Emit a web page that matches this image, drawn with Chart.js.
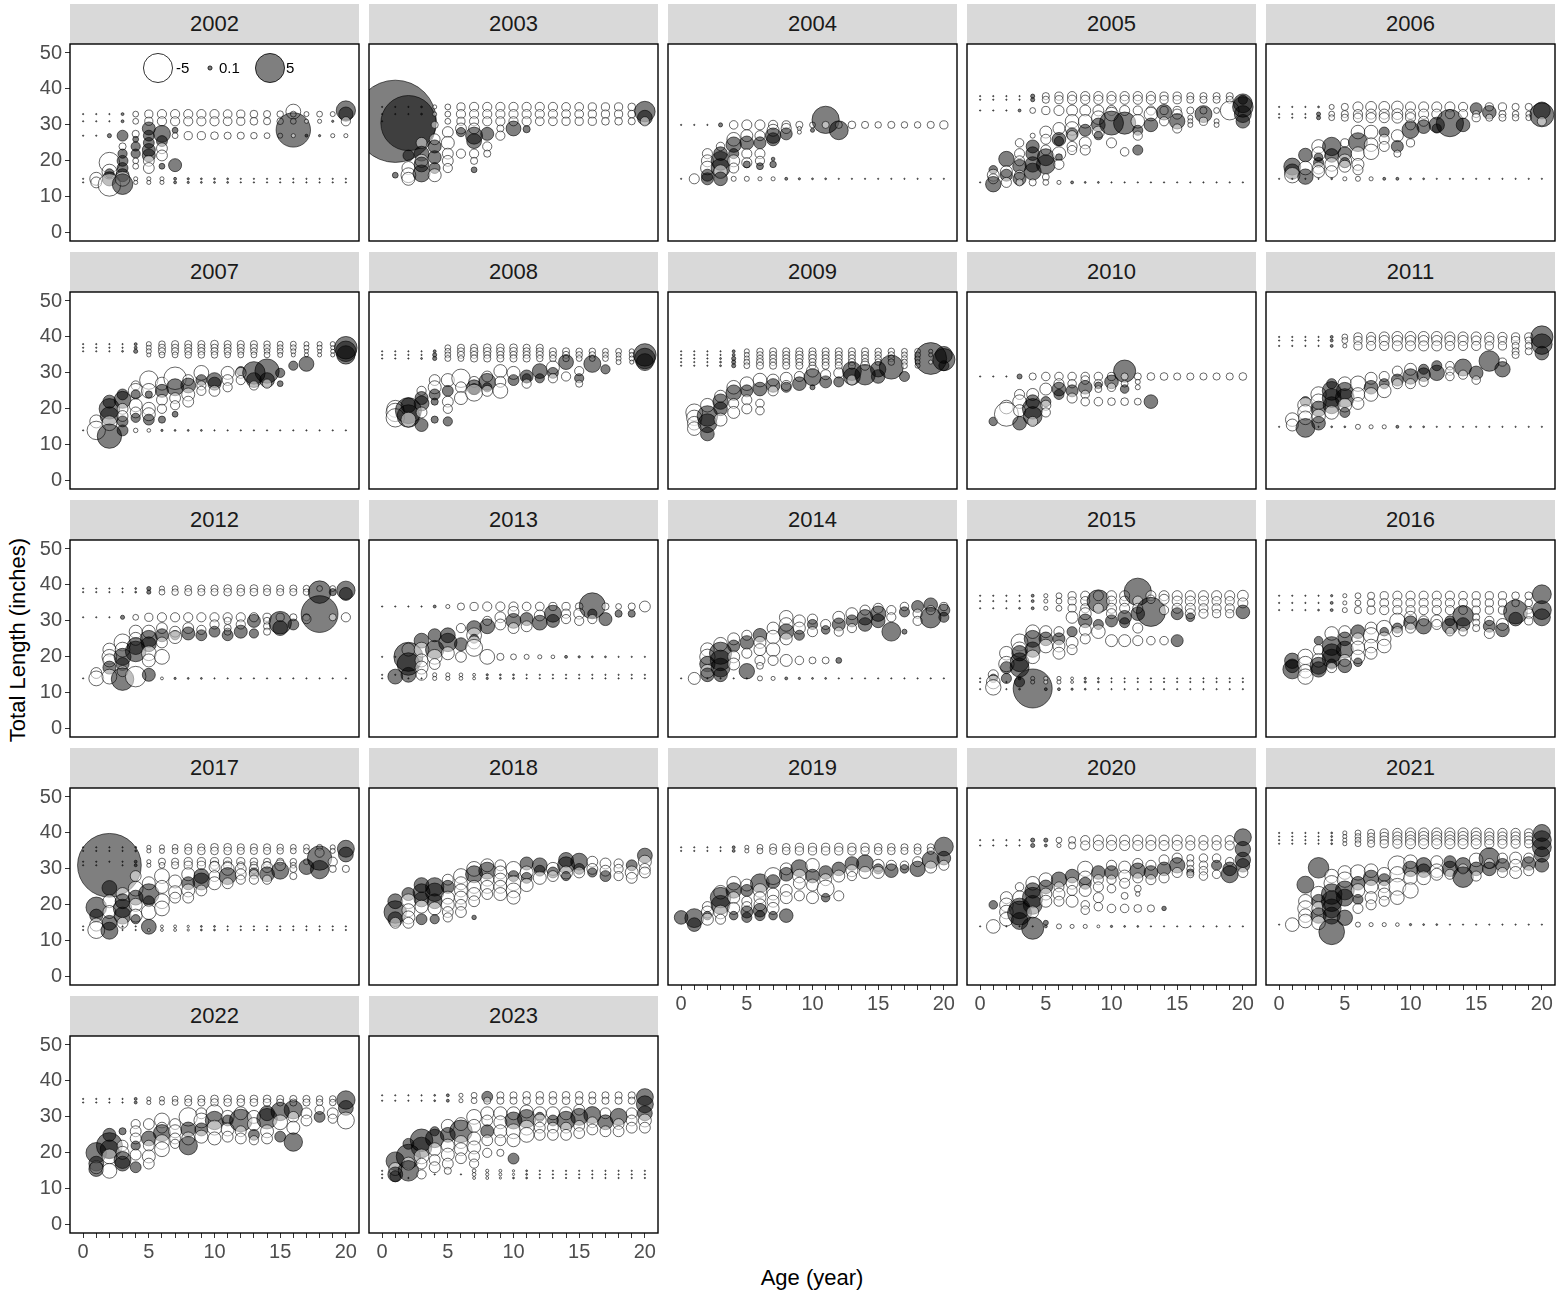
<!DOCTYPE html>
<html>
<head>
<meta charset="utf-8">
<script src="https://cdn.jsdelivr.net/npm/chart.js@4.4.1/dist/chart.umd.min.js"></script>
<style>
body { margin:0; background:#fff; width:1562px; height:1295px; position:relative; overflow:hidden; font-family:"Liberation Sans", Arial, sans-serif; }
.strip { position:absolute; background:#d9d9d9; color:#1a1a1a; font-size:22px; text-align:center; height:40px; line-height:40px; z-index:0; }
canvas { position:absolute; z-index:1; }
.ttl { position:absolute; font-size:22px; color:#000; width:400px; height:26px; line-height:26px; text-align:center; }
</style>
</head>
<body>
<div class="ttl" style="left:-182px; top:627px; transform:rotate(-90deg);">Total Length (inches)</div>
<div class="ttl" style="left:612px; top:1265px;">Age (year)</div>
<script>
// facet labels and axes
const years = [2002,2003,2004,2005,2006,2007,2008,2009,2010,2011,2012,2013,2014,2015,2016,2017,2018,2019,2020,2021,2022,2023];
const xTicks = [0,1,2,3,4,5,6,7,8,9,10,11,12,13,14,15,16,17,18,19,20];
const xLabels = [0,5,10,15,20];
const yTicks = [0,10,20,30,40,50];
const legendVals = [-5, 0.1, 5];

// residuals, one string per age (0..20): "length:residual"
const y2002 = [
 "33:.01 31:.01 27:.01 15:.01 14:.01",
 "33:.01 31:.01 27:.01 15:-1 14:-.7",
 "33:.01 31:.01 27:.1 19.5:-2.5 17:-1.3 16.5:.5 15:1.2 13.3:-3",
 "33:.05 31:.05 27:.7 24:-.3 22:.5 20:.7 18:.7 16:1 15:-1.3 13.5:2.5",
 "33:-.2 31:-.2 27.5:-.3 26:.2 24:.5 22:.5 20:-.2 18.5:-.2 15:-.1 14:-.1",
 "33:-.4 31:-.4 29:1 27:.7 25:.7 23:1 21.5:1 20:-.7 18:-.7 15:-.1 14:-.1",
 "33:-.5 31:-.5 27.5:1.7 25.5:.7 23.5:-.7 21.5:-.7 18.5:.2 15:-.1 14:-.1",
 "33:-.5 31:-.5 28.5:.2 27:-.2 18.8:1 15:.05 14:.05",
 "33:-.5 31:-.5 27:-.4 15:.03 14:.03",
 "33:-.5 31:-.5 27:-.4 15:.02 14:.02",
 "33:-.5 31:-.5 27:-.35 15:.02 14:.02",
 "33:-.45 31:-.45 27:-.3 15:.02 14:.02",
 "33:-.4 31:-.4 27:-.3 15:.01 14:.01",
 "33:-.35 31:-.35 27:-.25 15:.01 14:.01",
 "33:-.3 31:-.3 27:-.2 15:.01 14:.01",
 "33:-.25 31:-.25 27:-.15 15:.01 14:.01",
 "33.7:-1.3 33:-.2 31:-.2 28.6:7 27:-.1 15:.01 14:.01",
 "33:-.15 31:-.1 27:.05 15:.01 14:.01",
 "33:-.2 31:-.1 27:.03 15:.01 14:.01",
 "33:-.15 31:.03 27:-.1 15:.01 14:.01",
 "34:2.2 33:1.2 31:-.5 27:-.1 15:.01 14:.01"
];
const y2003 = [
 "35:.01 33:.01 31:.01",
 "35:.01 33:.01 31:40 16:.2",
 "35:.01 33:.01 30.5:18 21.5:.7 18:-1 16:-1.3 15:-1",
 "35:.02 33:.02 25:-.7 22:1.3 20:-1 19:1.3 16.5:1.7",
 "35:-.1 33:-.1 30:-.3 26:-.7 24:1 21:1 18:.7 16:-1",
 "35:-.2 33:-.2 31:-.2 28:-.7 25:-1 22:-.7 20:-.7 18:-.5",
 "35:-.4 33:-.5 31:-.4 29:-.7 28:.5 22:-.5",
 "35:-.5 33:-.5 31:-.5 29:-.7 27:1.7 25.5:1.3 22:-.5 20:-.3 17.5:.2",
 "35:-.5 33:-.5 31:-.5 27.5:1 24:-.5 22:-.3",
 "35:-.5 33:-.5 31:-.5 29:-.3 27:-.5",
 "35:-.5 33:-.5 31:-.5 29:1.3",
 "35:-.5 33:-.5 31:-.5 28.8:.3",
 "35:-.5 33:-.5 31:-.45",
 "35:-.5 33:-.5 31:-.45",
 "35:-.45 33:-.45 31:-.4",
 "35:-.45 33:-.45 31:-.4",
 "35:-.4 33:-.4 31:-.4",
 "35:-.4 33:-.4 31:-.35",
 "35:-.4 33:-.4 31:-.35",
 "35:-.35 33:-.35 31:-.3",
 "33.7:2.5 32:1.3 31:-.5"
];
const y2004 = [
 "30:.01 15:.01",
 "30:.01 15:-.6",
 "30:.01 22:-.6 20:-.85 18:-1.1 16:.85 15:.85",
 "30:.1 24:-.43 22:1.1 20:2.1 18:2.1 17:-1.1 15:1.1",
 "30:-.43 26:-1.1 24.5:1.4 22:.6 20:-.85 18:-.6 15:-.15",
 "30:-.6 27:-.85 25:1.1 22:-.6 19.5:-.6 19:.28 15:-.15",
 "30:-.6 27:-.6 25:.85 22:-.6 20:-.5 18.5:.28 15:-.1",
 "30:-.5 28.5:-.85 27:1.4 26:1 20.5:.08 19:.25 15:-.1",
 "30:-.4 29:-.6 27.5:.85 15:.05",
 "30:-.3 29:-.1 28:-.1 15:.03",
 "30:-.2 28.5:.1 15:.02",
 "31.4:4.4 30:-.3 15:.02",
 "30:-.3 28.5:2.1 15:.01",
 "30:-.35 15:.01",
 "30:-.3 15:.01",
 "30:-.25 15:.01",
 "30:-.3 15:.01",
 "30:-.25 15:.01",
 "30:-.25 15:.01",
 "30:-.3 15:.01",
 "30:-.4 15:.01"
];
const y2005 = [
 "38:.01 37:.01 34:.01 14:.01",
 "38:.01 37:.01 34:.01 17.5:.43 16:-.85 15:-.6 13.5:1.4",
 "38:.01 37:.01 34:.01 20.5:1.4 17:-.85 16:.85 14:-.6",
 "38:.01 37:.01 34:.05 25:-.43 22:-.6 20:-.6 18.5:1.1 16:-.6 15:1 14:-.3",
 "38:.1 37:.1 34:-.2 27:-.15 24:1 22:1.1 19:1.4 17:1.7 14:-.3",
 "38:-.3 37:-.3 34:-.4 28:-.85 26:-.6 23:-.6 21:1.7 19:2.1 15.5:-.28 14:-.2",
 "38:-.4 37:-.4 34:-.6 29:-.85 26:1.1 25.5:.5 22:-1.1 21:.28 19:-.6 14:-.1",
 "38:-.5 37:-.5 34:-.7 31:-1.1 29:-1.1 27.5:.85 27:-.6 24:-.6 23:-.5 14:.05",
 "38:-.5 37:-.5 34:-.7 31:-1.1 28.5:.85 25:-.85 23:-.6 14:.02",
 "38:-.5 37:-.5 34:-.7 32:-1.1 30:1.1 28:-.85 27:.4 14:.02",
 "38:-.5 37:-.5 34:-.6 33:-1.1 30.5:3.4 25:-.6 14:.01",
 "38:-.5 37:-.5 34:-.6 30.5:2.9 22.5:-.43 14:.01",
 "38:-.5 37:-.5 34:-.5 31:-1.1 28.5:.6 27:-.5 23:.6 14:.01",
 "38:-.5 37:-.5 34:-.5 33:-1.1 30:1.1 14:.01",
 "38:-.4 37:-.4 34:-.4 33.5:1.4 31:-.5 14:.01",
 "38:-.4 37:-.4 34:-.4 33:-.6 31:1.4 29:-.5 14:.01",
 "38:-.3 37:-.3 34:-.3 32:-.15 31:-.15 30:-.15 14:.01",
 "38:-.3 37:-.3 34:-.3 33:1.7 31:-.4 14:.01",
 "38:-.3 37:-.3 34:-.2 31:-.15 30:-.15 14:.01",
 "38:-.3 37:-.3 34:-2.1 14:.01",
 "37:.5 36:2.1 35:2.5 33:1.7 31:1.1 14:.01"
];
const y2006 = [
 "35:.01 33:.01 32:.01 15:.01",
 "35:.01 33:.01 32:.01 18.4:1.7 17:1.4 16:-1.4 15:.01",
 "35:.01 33:.01 32:.01 21.6:1.1 18:-1.1 15.6:1.4 15:.01",
 "35:.02 33:.1 32:.1 24:-1.1 22:-1.1 21:.4 19.5:.6 18:-.85 17:-.85 15:.01",
 "35:-.15 33:-.2 32:-.2 24:2 21.5:1.1 19:-1.1 17:-.85 15:.02",
 "35:-.3 33:-.3 32:-.3 25:-.4 22:1.1 20:-1.1 19.5:.6 18.5:-.85 15:-.1",
 "35:-.6 33:-.5 32:-.5 28:-1.1 25.2:2.1 22:-1.1 19:-.85 17.5:-.6 15:-.15",
 "35:-.7 33:-.6 32:-.6 28:-1.1 24.5:-1.1 22.5:-1.4 15:-.1",
 "35:-.7 33:-.6 32:-.6 28:.6 26:-.6 24:-.6 15:.05",
 "35:-.8 33:-.7 32:-.7 27:-.85 24:.85 22:-.3 15:.05",
 "35:-.6 33:-.6 32:-.6 30:-.6 28.6:1.7 25:-.4 15:.02",
 "35:-.6 33:-.6 31:-.6 29.5:1.1 15:.02",
 "35:-.6 33:-.6 30:1.4 29:.5 15:.01",
 "35:-.6 33:-.5 30.5:4.4 15:.01",
 "35:-.5 33:-.5 30:1.1 15:.01",
 "34.5:.85 33:-.3 32:-.4 15:.01",
 "35:-.4 33.5:1.1 32:-.3 15:.01",
 "35:-.4 33:-.3 32:-.3 15:.01",
 "35:-.3 33:-.25 32:-.25 15:.01",
 "35:-.3 33:-.2 32:-.2 15:.01",
 "34:1.7 32.8:3.4 31:-.5 15:.01"
];
const y2007 = [
 "38:.01 37:.01 36:.01 14:.01",
 "38:.01 37:.01 36:.01 16.5:-1 14:-2",
 "38:.01 37:.01 36:.01 22:1 20:2.5 18:2 16:-1.3 12.4:3.5",
 "38:.01 37:.01 36:.02 24:.7 22.5:1.7 20:-.7 18:-.7 16.5:.7 14:.7",
 "38:.05 37:.05 36:.1 26.5:-.5 25:-1.3 24:.5 21:-1 19:-.7 17.5:.5 14:-.12",
 "38:-.15 37:-.15 36:-.15 35:-.1 28:-2 25:-1.3 24:.3 20:-1 18.5:-1 17:.7 14:-.08",
 "38:-.25 37:-.3 36:-.3 35:-.2 27:-1 25:1 22.5:-.7 20:-.5 17:.3 14:.03",
 "38:-.3 37:-.3 36:-.3 35:-.2 28.5:-3 26:1.7 23:-.7 21:-.5 18.5:.2 14:.02",
 "38:-.3 37:-.3 36:-.3 35:-.25 28:-.7 26.5:1.3 24:-1 22:-.7 14:.02",
 "38:-.3 37:-.3 36:-.3 35:-.25 30:-1.3 28:.7 26.5:-.5 25:-.5 14:.02",
 "38:-.35 37:-.3 36:-.3 35:-.25 28:1.3 27:1 25:-.7 14:.01",
 "38:-.3 37:-.3 36:-.3 35:-.2 30:-1 28:-.7 26:-.5 14:.01",
 "38:-.3 37:-.3 36:-.25 35:-.2 30.5:.5 30:-.7 28:-.5 14:.01",
 "38:-.3 37:-.3 36:-.25 35:-.2 30:3 28:1.3 26.5:-.5 14:.01",
 "38:-.25 37:-.25 36:-.2 35:-.2 30.5:3.5 28:1.3 27:-.5 14:.01",
 "38:-.2 37:-.2 36:-.2 35:-.15 30:.5 27:.2 14:.01",
 "38:-.2 37:-.2 36:-.15 35:-.1 32:.5 14:.01",
 "38:-.15 37:-.15 36:-.1 35:-.1 32.5:1.3 14:.01",
 "38:-.15 37:-.15 36:-.1 35:-.1 14:.01",
 "38:-.15 37:-.1 36:-.1 35:-.1 14:.01",
 "37:3 36:2.5 35:2 14:.01"
];
const y2008 = [
 "36:.01 35:.01 34:.01",
 "36:.01 35:.01 34:.01 20:-1.7 19:-2 17.5:-2",
 "36:.01 35:.01 34:.01 21:1.3 19.5:4 18:3 17:-1.3",
 "36:.01 35:.01 34:.02 25:-.5 23:1 21.5:1.3 19:-.7 15.5:1",
 "36:.05 35:.1 34:.1 28:-.7 26:-1 24:.7 22:.3 17:.3",
 "37:-.2 36:-.2 35:-.2 34:-.2 28:-1 25:.7 22:-.7 20:-.5 16.5:.5",
 "37:-.3 36:-.3 35:-.3 34:-.2 28.5:-2 26:-.7 23:-1",
 "37:-.3 36:-.35 35:-.3 34:-.3 27.5:-.7 26:1.3 25.5:.7 24.5:-1.7",
 "37:-.35 36:-.35 35:-.3 34:-.3 29:-.7 27.5:1.7 26:.5 25:-.7",
 "37:-.35 36:-.35 35:-.3 34:-.3 30.5:-1 27.5:-.7 25:-1.3",
 "37:-.35 36:-.35 35:-.3 34:-.3 30:-1 28:.7",
 "37:-.3 36:-.3 35:-.3 34:-.3 29:1 28.5:.5 27:-.5",
 "37:-.3 36:-.3 35:-.3 34:-.25 30.5:1.3 28.5:.5",
 "36:-.3 35:-.3 34:-.25 31.5:-1 30:.7 28.5:-.5",
 "36:-.3 35:-.3 34:-.25 33:1.3 29:-.5",
 "36:-.25 35:-.25 34:-.2 30.5:-.5 28.5:.5 27:-.3",
 "36:-.25 35:-.25 34:-.2 32.5:1.7",
 "36:-.2 35:-.2 34:-.2 31:.5",
 "36:-.2 35:-.15 34:-.15 33:-.15",
 "36:-.15 35:-.15 34:-.15 33:-.1",
 "35:3 34:2.5 33:1.7"
];
const y2009 = [
 "36:.01 35:.01 34:.01 33:.01 32:.01",
 "36:.01 35:.01 34:.01 33:.01 32:.01 19:-1.7 17.5:-1.4 16:-1.1 14.5:-1.1",
 "36:.01 35:.01 34:.01 33:.01 32:.01 21:-1.1 18:2.5 16:2.1 13:1.1",
 "36:.01 35:.01 34:.02 33:.02 32:.02 23.5:-.85 22:1.4 20:1.1 17:-1",
 "36:.05 35:.05 34:.1 33:.1 32:.1 26:-1.1 24.5:1.4 21.5:-.6 19:-.85",
 "36:-.15 35:-.15 34:-.15 33:-.2 32:-.2 27:-1.1 25:.85 22.5:-.6 20:-.6",
 "36:-.25 35:-.25 34:-.25 33:-.3 32:-.3 28:-1.1 25.5:1.1 21.5:-.43 19.5:-.43",
 "36:-.3 35:-.3 34:-.3 33:-.3 32:-.3 28:-.85 26.5:1.1 25:-.6",
 "36:-.3 35:-.3 34:-.3 33:-.3 32:-.3 28.5:-.85 26.5:-.6 26:.6",
 "36:-.3 35:-.35 34:-.35 33:-.3 32:-.3 29:-.6 27:1.1",
 "36:-.3 35:-.35 34:-.35 33:-.3 32:-.3 30.5:-.85 28.8:1.7 26:.15",
 "36:-.3 35:-.3 34:-.3 33:-.3 32:-.3 29.5:-.6 27.5:.85",
 "36:-.3 35:-.3 34:-.3 33:-.3 32:-.3 30:-.6 27.5:.6",
 "36:-.3 35:-.3 34:-.3 33:-.3 32:-.3 30.5:2.1 29:1.7 28:-.6",
 "36:-.3 35:-.3 34:-.3 33:-.3 32:-.5 29.5:2.5",
 "36:-.25 35:-.25 34:-.25 33:-.25 31:1.4 29:1.1",
 "36:-.25 35:-.25 34:-.25 33:-.25 31.6:3.4",
 "36:-.2 35:-.2 34:-.2 33:-.2 32:-.2 29:.6",
 "36:-.2 35:-.2 34:-.15 33:-.15 32:-.15",
 "36:-.1 35:-.1 34:6 33:-.1",
 "35:1.7 33.7:2.9 32:.6"
];
const y2010 = [
 "29:.01",
 "29:.01 16.5:.43",
 "29:.01 20.5:-1.1 18.5:-3.4",
 "29:.15 24:-.6 22:-1.1 19.5:-.85 16:1.1",
 "29:-.3 24:-.85 22:1.1 20:2.5 18:2.1 16.5:-.6",
 "29:-.43 25.5:-.85 22:.6 21:-.6 19:-.5",
 "29:-.43 27:-.6 25.5:1.1 24:.6",
 "29:-.43 27:-.43 25:.85 23:-.6",
 "29:-.43 28:-.43 26:1.1 24:-.43 22:-.43",
 "29:-.43 27:-.43 26.5:.28 25.5:-.28 22:-.43",
 "29:-.4 27.5:1.1 26:-.43 22:-.35",
 "30.5:2.9 29:-.3 27:-.28 25.5:.43 22:-.35",
 "29:-.3 27.5:-.15 26:-.15 22:-.28",
 "29:-.35 22:1.1",
 "29:-.35",
 "29:-.3",
 "29:-.3",
 "29:-.3",
 "29:-.3",
 "29:-.3",
 "29:-.35"
];
const y2011 = [
 "40:.01 39:.01 37.5:.01 15:.01",
 "40:.01 39:.01 37.5:.01 17:-1.1 15.5:-.85",
 "40:.01 39:.01 37.5:.01 22:.6 21:-1.4 19:-1.4 17.5:-1.1 14.7:2.1",
 "40:.01 39:.01 37.5:.01 24:-1.4 22:-1.4 20:1.4 18:-1.1 16:1.1 15:.01",
 "40:.05 39:.05 37.5:.05 27:.6 25:2.1 23:2.1 21:1.7 19:-1.1 15:.02",
 "40:-.2 39:-.2 37.5:-.1 27:-1.1 25:1.7 23:2.1 21:-1.1 19:.6 15:.02",
 "40:-.4 39:-.4 37.5:-.4 27:-1.4 24:-1.1 21.5:-.85 15:-.15",
 "40:-.5 39:-.5 37.5:-.5 28.5:-.85 26:1.1 24:-1.1 15:-.1",
 "40:-.6 39:-.6 37.5:-.5 29:-.6 27:.6 25:-1.1 15:-.1",
 "40:-.7 39:-.6 37.5:-.6 30.5:-.6 28:.85 27:-.6 15:.05",
 "40:-.7 39:-.6 37.5:-.6 31:-.85 29:1.4 27:-.6 15:.02",
 "40:-.7 39:-.6 37.5:-.6 31:.6 29.5:1.1 27.5:-.5 15:.02",
 "40:-.7 39:-.6 37.5:-.6 32:.6 30:1.4 15:.01",
 "40:-.6 39:-.6 37.5:-.5 32:-.43 30.5:-.43 29:-.43 15:.01",
 "40:-.6 39:-.6 37.5:-.5 31.5:1.7 29.5:-.5 15:.01",
 "40:-.6 39:-.5 37.5:-.5 30:1.1 28:-.43 15:.01",
 "40:-.5 39:-.5 37.5:-.4 33.3:2.5 15:.01",
 "40:-.5 39:-.4 37.5:-.4 33:-.4 31:1.4 15:.01",
 "40:-.4 39:-.4 37.5:-.3 36:-.3 35:-.3 15:.01",
 "40:-.4 39:-.3 37.5:-.3 36:-.3 15:.01",
 "40:2.9 38:2.5 35.5:1.1 15:.01"
];
const y2012 = [
 "39:.01 38:.01 31:.01 14:.01",
 "39:.01 38:.01 31:.01 15.5:-.7 14:-1.3",
 "39:.01 38:.01 31:.01 22:-1 20:-1.3 19:-1 17:1 14.5:-1.3",
 "39:.01 38:.01 31:.1 24:-1.7 22:-1.3 20:1.7 18:1 16:-.7 13.8:3",
 "39:.02 38:.02 31:-.2 27:-1 25:-1 23:1.7 21.5:2.5 14.5:-2.5",
 "39:.1 38:.1 31:-.4 27:-1 25:1.7 23.5:1.3 21:-1.3 19:-1 15:1",
 "39:-.15 38:-.2 31:-.5 28:-.7 26:1 24:-.7 20:-1.3 14:-.05",
 "39:-.2 38:-.25 31:-.5 27:-.7 26:.5 25.5:-1 14:.03",
 "39:-.25 38:-.3 31:-.5 28:-.7 26.5:1 14:.02",
 "39:-.3 38:-.3 31:-.5 27.5:-.5 26:.7 14:.02",
 "39:-.3 38:-.3 31:-.5 29:-.5 27:.7 14:.01",
 "39:-.35 38:-.35 31:-.5 30:-.3 28:-.3 27:-.3 26:.7 14:.01",
 "39:-.35 38:-.35 31:-.5 29:-.5 27:1 14:.01",
 "39:-.35 38:-.35 31:-.5 30:1 26.5:.5 14:.01",
 "39:-.3 38:-.3 31:-.4 30:-.3 28.5:-.3 27:-.3 14:.01",
 "39:-.3 38:-.3 31:-.4 29.5:3 28:1.3 14:.01",
 "39:-.3 38:-.3 31:-.3 29:.7 14:.01",
 "39:-.25 38:-.25 31:-.3 30.5:-.5 14:.01",
 "39:-.2 38:3 31.9:8 14:.01",
 "39:-.2 38:.3 31:-.3 14:.01",
 "38.5:2 37.5:1 31:-.5 14:.01"
];
const y2013 = [
 "34:.01 20:.01 15:.01 14:.01",
 "34:.01 20:.01 15:.01 14.5:1.3",
 "34:.01 22:-1 20:5 18:3 15:1.3 14:.01",
 "34:.01 24.5:1.3 22:-1.3 19:-1 17:-1 15:-.7 14:.01",
 "34:.05 26:1 22:2 20:-1.3 18:-.7 15:-.1 14:-.1",
 "34:-.1 26:1.3 24:2 21:-1 15:-.1 14:-.1",
 "34:-.3 28:-.5 23.5:1 20:-.7 15:-.08 14:-.08",
 "34:-.4 28:1.3 26:-1.3 25:.5 24:-1 22.5:-1.7 15:-.05 14:-.05",
 "34:-.5 30:-.5 28.5:1.3 20:-1.3 15:.03 14:.03",
 "34:-.5 31:-.7 29:-.7 20:-.3 15:.02 14:.02",
 "34:-.5 32.5:-.7 30:1.3 28:-.7 20:-.2 15:.02 14:.02",
 "34:-.45 30.5:1 28.5:-.7 20:-.15 15:.01 14:.01",
 "34:-.45 31.5:-.7 29.5:1.3 20:-.1 15:.01 14:.01",
 "34:-.4 32:1.7 30:1 20:-.08 15:.01 14:.01",
 "34:-.4 32:-.5 30.5:-.5 20:.05 15:.01 14:.01",
 "34:-.35 32:-.7 30:-.5 20:.03 15:.01 14:.01",
 "34.2:4 32:.5 30.5:-.5 20:.02 15:.01 14:.01",
 "34:-.3 30.5:1 20:.02 15:.01 14:.01",
 "34:-.2 32:.3 20:.01 15:.01 14:.01",
 "34:-.3 32:.3 20:.01 15:.01 14:.01",
 "34:-.7 20:.01 15:.01 14:.01"
];
const y2014 = [
 "14:.01",
 "14:-.85",
 "22:-1.1 20:-1.4 18:1.4 16:-1.1 15:1.1 14:.01",
 "23.5:-1.1 21:2.9 19:2.5 17:2.1 15:1.1 14:.01",
 "25:-.85 23:.85 20:-.85 18:-.85 14:.01",
 "26:-.6 24:1.1 21:-.6 16:1.4 14:.01",
 "26:1.1 24:-.85 22:-.85 19:-.6 17.5:-.28 14:-.15",
 "28:-.85 25.5:-1.1 22:-1.1 19:-.6 14:-.1",
 "31:-1.1 29:-1.1 27:1.4 25:-.85 19:-.85 14:.05",
 "30:-.85 28:-.85 26:.6 19:-.43 14:.03",
 "30.5:-.6 29:.6 27:-.6 19:-.28 14:.02",
 "29:-.6 27.5:.43 19:-.28 14:.02",
 "31:-.85 29:1 27:-.5 19:.2 14:.01",
 "32:-.85 30:.85 28:-.5 14:.01",
 "33:-.6 31:1.4 29:1.1 14:.01",
 "33.5:-.6 32:1.4 30:1.1 14:.01",
 "33:-.5 31:-.5 27:2.1 14:.01",
 "34:-.43 32.5:.6 27:.15 14:.01",
 "34:.85 32:-.5 30:-.5 14:.01",
 "34.5:1.1 33:-.5 30.9:2.5 14:.01",
 "34:-.4 33:.85 31:.6 14:.01"
];
const y2015 = [
 "37:.01 35.5:.01 33.5:.01 14:.01 13:.01 11:.01",
 "37:.01 35.5:.01 33.5:.01 15:-.6 14:.43 13:-1.1 11.5:-1.4",
 "37:.01 35.5:.01 33.5:.01 21:-1.1 18:-1.4 17:.85 14:.6 13:.01 11:.01",
 "37:.01 35.5:.01 33.5:.02 24:-1.7 22:-1.4 21:1.4 18.5:2.1 17:2.1 14:.05 13:.6 11:.02",
 "37:.05 35.5:.05 33.5:.05 27:-1.1 25:1.7 22:1.4 20:-1.1 14:-.1 13:-.1 11.2:9",
 "37:-.1 35.5:-.1 33.5:-.1 27:-.85 25:1.1 23:-1.1 14:-.1 13:-.1 11:.05",
 "37:-.2 35.5:-.2 33.5:-.2 27:-.6 25:.85 23:-.85 21:-.85 14:-.1 13:-.1 11:.05",
 "37:-.4 35.5:-.4 33.5:-.4 31:-.85 27:.6 24:-.85 22:-.6 14:-.05 13:-.05 11:.03",
 "37:-.5 35.5:-.5 33.5:-.5 32:-.85 30:1.1 27.5:-.85 25:-.6 14:.03 13:.03 11:.02",
 "37:-.6 35.5:3 33.5:-.6 29:.6 27:-1.1 14:.02 13:.02 11:.01",
 "37:-.6 35.5:-.6 33.5:-.6 32:-.6 30:.85 24.5:-.85 14:.01 13:.01 11:.01",
 "37:-.6 35.5:-.6 33.5:-.6 31:1.1 29.5:.6 24.5:-.85 14:.01 13:.01 11:.01",
 "38.1:4.4 35.5:-.6 33.5:-.6 32:1.1 28:-.6 24.5:-.6 14:.01 13:.01 11:.01",
 "37:-.6 36:-.43 32.5:5 24.5:-.43 14:.01 13:.01 11:.01",
 "37:-.6 36:-.6 33:-.5 24.5:-.43 14:.01 13:.01 11:.01",
 "37:-.6 35.5:-.6 33.5:-.6 32:.85 24.5:.85 14:.01 13:.01 11:.01",
 "37:-.6 35.5:-.6 33.5:-.6 32:-.6 31:.43 14:.01 13:.01 11:.01",
 "37:-.6 35.5:-.6 33.5:-.5 32:-.5 14:.01 13:.01 11:.01",
 "37:-.6 35.5:-.5 33.5:-.5 32:-.4 14:.01 13:.01 11:.01",
 "37:-.6 35.5:-.5 33.5:-.5 32:-.4 14:.01 13:.01 11:.01",
 "37:-.7 35:-.6 32.5:1.1 14:.01 13:.01 11:.01"
];
const y2016 = [
 "37:.01 35:.01 33:.01",
 "37:.01 35:.01 33:.01 18.9:1.4 17.5:1.1 16.5:2.1",
 "37:.01 35:.01 33:.01 20:-1.4 18:-1.4 16:-1.1 14.5:-1.4",
 "37:.01 35:.01 33:.02 24.5:.43 22:-.6 19:-1.1 17.5:1.7 16.5:1.4",
 "37:.03 35:.05 33:.05 26.5:-1.1 23:2.1 21:2.1 19.5:2.1 18:.6 17:-.6",
 "37:-.1 35:-.1 33:-.15 27:-.85 25:1.1 22:1.7 19:-.85 17.5:1.1",
 "37:-.2 35:-.2 33:-.3 27:1.1 25:-.85 22.5:-1.1 20:-1.1 18.5:.43",
 "37:-.3 35:-.35 33:-.4 28:-.85 26:-1.4 23:-1.1 21:-.85",
 "37:-.4 35:-.45 33:-.5 28:-1.4 27:.43 25:-1.1 23:-1.1",
 "37:-.5 35:-.5 33:-.5 30:-1.4 28:.6 27:-.6",
 "37:-.5 35:-.5 33:-.5 31:-.85 29.5:1.1 28:-.6",
 "37:-.5 35:-.5 33:-.5 30:-.6 28.5:1.4",
 "37:-.5 35:-.5 33:-.5 30:-.85 29:-.6",
 "37:-.5 35:-.5 33:-.5 30:.6 28.5:1.4 27:-.43",
 "37:-.45 35:-.45 33:-.45 31.4:2.5 29:1.1 27:-.43",
 "37:-.4 35:-.4 33:-.4 31:-.3 29.5:-.3 28:-.3",
 "37:-.4 35:-.4 33:-.4 30:-.5 28.5:.85 26.5:-.6",
 "37:-.4 35:-.4 33:-.4 29:-.85 27.5:1.1",
 "37:-.35 35:-.35 32.5:3.4 30.5:1.1",
 "37:-.35 35:-.35 33:-.3 32:-.6 30:-.4",
 "37.4:2.1 33:2.1 31:1.7"
];
const y2017 = [
 "36:.01 35:.01 32:.01 31:.01 14:.01 13:.01",
 "36:.01 35:.01 32:.01 31:.01 19.3:2.5 17:1 14.5:-1 13:-1.7",
 "36:.01 35:.01 32:.01 31:24 24.7:1.3 21:-1 18:-1 15:1.3 12.8:1.7",
 "36:.01 35:.01 32:.01 31:.01 23:-1 21:1.3 19:2 17:1.7 15:-.7 14:.01 13:.01",
 "36:.02 35:.02 32:.05 31:.05 28:-.7 24.5:-1.3 22:1.3 20:-1 17:-1 16:.5 14:.01 13:.01",
 "36:-.1 35:-.1 32:-.1 31:-.1 26:-1 23:2.5 21:.7 18:-1.3 13.9:1.3 13:-.05",
 "36:-.15 35:-.15 32:-.3 31:-.2 28:-1.3 25:-1 21:-1.3 19:-1.3 14:-.05 13:-.05",
 "36:-.2 35:-.2 32:-.3 31:-.3 26.5:-1 23.5:-1 22:-.7 14:-.05 13:-.05",
 "36:-.3 35:-.3 32:-.4 31:-.4 28.5:-1 26:1 24:-1 22:-.7 14:-.03 13:-.03",
 "36:-.3 35:-.35 32:-.4 31:-.4 28:1.3 26.5:1.7 24:-.7 14:.02 13:.02",
 "36:-.35 35:-.35 32:-.4 31:-.4 30.5:-.7 28:-.7 26:-1 14:.02 13:.02",
 "36:-.35 35:-.35 32:-.4 31:-.4 30:-1 28:1.7 26:-.7 14:.01 13:.01",
 "36:-.3 35:-.3 32:-.4 31:-.3 30:-.7 28.5:-.7 27:-.5 14:.01 13:.01",
 "36:-.3 35:-.3 32:-.35 31:-.3 30:-.5 29:.5 28.5:-.5 27:-.5 14:.01 13:.01",
 "36:-.3 35:-.3 32:-.3 31:-.3 30.5:-.7 28.5:1.3 27:-.5 14:.01 13:.01",
 "36:-.25 35:-.25 32:-.3 31:-.7 29.5:1.7 14:.01 13:.01",
 "36:-.2 35:-.2 32:-.25 31:-.2 30:-.3 28:-.3 14:.01 13:.01",
 "36:-.2 35:-.2 32:-.2 30.5:1.3 14:.01 13:.01",
 "36:-.2 34.5:-.5 33:3.5 29.8:2 14:.01 13:.01",
 "36:-.15 35:-.15 32:-.5 30:-.3 14:.01 13:.01",
 "35.6:1.7 34:1.3 30:-.3 14:.01 13:.01"
];
const y2018 = [
 "",
 "21:1.3 18:3 16:1.3 15:-.7",
 "23:1 21:-1.3 18.5:-1 16.5:-1 15:-.7",
 "25.5:1.3 23.5:1.7 21.5:1.3 19.5:-1 16:.7",
 "25:2 23.5:2 21:1.3 19:-1 16:.5",
 "27:-.7 25:1 22:-1 20:-1 18:-.7 16.5:-.5",
 "28:-1.3 26:-1 24:-1 22:-1 20:-.7 18:-.7",
 "30:-1.3 28.5:1.7 25:-1 23:-1 21:-.7 16.5:.12",
 "31:-1 29.5:1.7 27:-1 25:-1 23:-.7",
 "31:-.7 29:-1 27:-1 25:-1 23:-1",
 "30:-1.3 28:.7 26:-1.3 24:-1.3 22:-1",
 "31.5:1 29:-1 27.5:.7 25.5:-1",
 "31:1.3 29.5:.7 27.5:-1",
 "30:-1 29:.7 28:-.7",
 "32.5:1.3 31:1.7 29:-1 28:.5",
 "32:1.7 30:.7 29:-.7",
 "32:-.7 30:-.7 29:.5",
 "31.5:-.7 29.5:-.7 28:.7",
 "31.5:-.5 30:-.5 28:-.5",
 "31:.7 29:-1 27.5:-.7",
 "33.7:1.3 32:-1 30:-.7 29:-.7"
];
const y2019 = [
 "36:.01 35:.01 16.5:1.1",
 "36:.01 35:.01 16.3:2.1 14.5:1.1",
 "36:.01 35:.01 19.5:-.6 18:-.85 17:.43 16:-.85",
 "36:.01 35:.01 23.5:-1.1 22:2.5 20:2.1 18:-1.1 16:-.6",
 "36:.05 35:.05 26:-1.1 24:1.4 22:-.85 19:-.85 17:.43",
 "36:-.1 35:-.1 25.5:-.85 24:.85 21:-.6 19.5:-.6 18:.85 16.5:.6",
 "36:-.2 35:-.2 26:2.1 24:-1.1 22:-.85 20:-.85 18.5:1.1 17:.6",
 "36:-.3 35:-.3 28:-1.7 26.5:1.1 23:-.85 21:-.85 19:-.85 17:.43",
 "36:-.35 35:-.35 30:-.85 28.5:1.1 24:-.85 22:-.85 17:1.1",
 "36:-.4 35:-.4 30.2:1.7 28:-1.1 26:-.85 22.5:-.6",
 "36:-.4 35:-.4 31:-1.1 28:1.1 25.5:-.85 22:-.85",
 "36:-.4 35:-.4 29:1.1 27:-.85 24.5:-1.7 22:.43",
 "36:-.4 35:-.4 30:1.1 28:-.85 22.5:-.6",
 "36:-.4 35:-.4 31.5:1.1 29.5:-.85 28:-.5",
 "36:-.4 35:-.4 31.5:1.7 29:-.85",
 "36:-.35 35:-.35 31:-.85 30:.6 29:-.85",
 "36:-.35 35:-.35 31:-.6 29.5:1.1",
 "36:-.3 35:-.3 31:-.43 30:.43",
 "36:-.3 35:-.3 32:-.6 30:1.4",
 "36:-.3 35:-.3 32.5:1.7 30.5:-.85",
 "36.2:2.1 33:1.1 31:-.6"
];
const y2020 = [
 "38:.01 36.5:.01 14:.01",
 "38:.01 36.5:.01 20:.43 14:-1.1",
 "38:.01 36.5:.01 22:-.85 20:-1.1 18:-1.1 16:-1.1 14:.01",
 "38:.01 36.5:.01 25:-.43 22:-1.1 19:2.5 17.7:3.4 15.5:1.7 14:.01",
 "38:.1 36.5:.1 26:-1.1 24:1.4 22:2.5 20:2.1 18:-.85 14:.01 13.5:2.9",
 "38:.1 36.5:.05 27:-1.1 25:1.1 23:-.85 21:-.85 15:.15 14:.05",
 "38:-.2 36.5:-.1 27:1.4 25:-.6 23:-.85 21:-.6 14:-.15",
 "38:-.3 36.5:-.3 28:1.1 26:-.85 24:-.6 21:-.85 14:-.1",
 "38:-.5 36.5:-.5 30:-1.4 27.5:-1.1 26:.85 24:-.85 20:-.43 18.5:-.43 14:-.1",
 "38:-.6 36.5:-.6 29:1.1 27:-.6 25:-.6 22:-.6 19.5:-.43 14:-.05",
 "38:-.6 36.5:-.6 31:-.6 29:1.1 27:-.5 24.5:-.43 19:-.43 14:.03",
 "38:-.6 36.5:-.6 30.5:-.85 28:-.85 26:-.6 22.5:-.28 19:-.43 14:.02",
 "38:-.6 36.5:-.6 31.5:-.6 29.5:1.4 27.5:-.6 24.5:-.28 23:-.12 19:-.35 14:.02",
 "38:-.6 36.5:-.6 31:-.6 29:1.1 27:-.6 19:-.3 14:.01",
 "38:-.6 36.5:-.6 32.5:-.6 30:1.1 27.5:-.6 19:.12 14:.01",
 "38:-.6 36.5:-.6 33:-.6 31:1.4 29:-.6 14:.01",
 "38:-.5 36.5:-.5 33:-.3 31.5:-.3 30:-.3 29:.3 28.5:-.3 14:.01",
 "38:-.5 36.5:-.5 33:-.43 31:-.43 29.5:-.43 28:-.43 14:.01",
 "38:-.5 36.5:-.5 33:-.43 31:.6 28.5:-.43 14:.01",
 "38:-.5 36.5:-.5 32:-.43 30:1.1 28.5:1.7 14:.01",
 "38.8:1.7 35.5:1.4 32.5:1.4 31:1.1 29:-.6 14:.01"
];
const y2021 = [
 "40:.01 39:.01 38:.01 37:.01 14.5:.01",
 "40:.01 39:.01 38:.01 37:.01 14.5:-1.1",
 "40:.01 39:.01 38:.01 37:.01 25.6:1.7 21:-1.1 19:-1.4 17:-1.1 15.5:-1.1",
 "40:.01 39:.01 38:.01 37:.01 30.3:2.5 23:-1.4 21:1.1 19:-1.1 17:1.4 15:-1.1",
 "40:.02 39:.02 38:.02 37:.02 28:-1.1 26:-1.4 23:2.5 21:2.5 19:2.1 17:1.7 12.5:3.9",
 "40:-.1 39:-.1 38:-.1 37:-.1 29:-1.1 27:-1.4 24:2.1 22:1.7 16.4:1.4",
 "40:-.2 39:-.2 38:-.2 37:-.2 29:-1.4 26:1.1 24:-1.1 21.5:.6 19:-.6 14.5:-.15",
 "40:-.3 39:-.3 38:-.3 37:-.3 29.5:-1.1 27.5:1.4 25:-1.1 22:-.85 20:-.6 14.5:-.1",
 "40:-.4 39:-.4 38:-.4 37:-.4 28.5:-1.1 27:.85 25:-.8 23:-.85 21:-.6 14.5:-.1",
 "40:-.5 39:-.5 38:-.5 37:-.5 31:-2.1 28.5:-1.4 25:-1.7 22:-1.1 14.5:-.08",
 "40:-.6 39:-.6 38:-.6 37:-.6 32:-1.1 30:1.4 27.5:-1.1 24:-1.4 14.5:.03",
 "40:-.6 39:-.6 38:-.6 37:-.6 31:1.4 29.5:1.1 27.5:-1.1 14.5:.02",
 "40:-.6 39:-.6 38:-.6 37:-.6 32:-.85 29.5:-1.1 28.5:-.85 14.5:.02",
 "40:-.6 39:-.6 38:-.6 37:-.6 32:.85 30:1.4 28.5:-.6 14.5:.01",
 "40:-.6 39:-.6 38:-.6 37:-.6 31:1.4 30:-.6 27.7:2.5 14.5:.01",
 "40:-.6 39:-.6 38:-.6 37:-.6 32.5:-1.1 30:1.1 28:-.6 14.5:.01",
 "40:-.5 39:-.5 38:-.5 37:-.5 33:2.5 31.5:-.6 30:1.1 14.5:.01",
 "40:-.5 39:-.5 38:-.5 37:-.5 33:-.6 31:1.1 29:-.6 14.5:.01",
 "40:-.5 39:-.5 38:-.5 37:-.5 33:-.85 31:-.85 29:-.85 14.5:.01",
 "40:-.4 39:-.4 38:-.4 37:-.4 33:-.6 31.5:1.1 29.5:-.6 14.5:.01",
 "40:1.7 38:2.1 36:2.1 34:1.4 31:1.1 14.5:.01"
];
const y2022 = [
 "35:.01 34:.01",
 "35:.01 34:.01 20:2.5 17:1.3 16:-1 15.5:1.3",
 "35:.01 34:.01 25:1 22:4 21:2 19:-1.3 15:-1.3",
 "35:.01 34:.01 26:.3 22:-.7 20:-1 18:1.7 17:1.3",
 "35:.05 34:.05 28:-.5 26:-.7 24:-.7 22:.5 19.5:-.7 16:.7",
 "35:-.1 34:-.1 28:-.7 24:1.3 22:-.7 19:-1 17:-.7",
 "35:-.15 34:-.15 29:-1.3 27:-.7 25.5:1.7 23:-1.3 21:-1.3",
 "35:-.2 34:-.2 28:-.7 26:-1 24:-.7 22.5:-.5",
 "35:-.3 34:-.3 30:-2 26.5:1.3 24:-1 22:2",
 "35:-.3 34:-.3 31:-.7 29:-1.3 26.5:1 24.5:-1",
 "35:-.35 34:-.35 31:-1.7 29:2 27:-1.3 24:-1",
 "35:-.35 34:-.35 30:-1 29:.7 26.5:-1 24.5:-.7",
 "35:-.35 34:-.35 31:-1 29:3 26:-.7 24:-.7",
 "35:-.35 34:-.35 30:-1 28:-1 25:.7 23.5:-.5",
 "35:-.35 34:-.35 31:1.3 29.5:2.5 26:-1 24:-.7",
 "35:-.3 34:-.3 31.5:2 28.5:-1.3 24.5:.7",
 "35:-.3 34:-.3 32:2 30:-.7 27:-1 23:2",
 "35:-.3 34:-.3 31:-.7 29:-.7",
 "35:-.25 34:-.25 32:-.5 30:.7",
 "35:-.25 34:-.25 31:-.7 29.5:-.5",
 "34.7:2 32.5:1.3 29:-1.7"
];
const y2023 = [
 "36:.01 34.5:.01 15:.01 14:.01 13:.01",
 "36:.01 34.5:.01 17.7:2 15.5:-1 14:1.3 13.5:.7",
 "36:.01 34.5:.01 22.5:.7 19:3.5 17:-1 15:2.5 13:.01",
 "36:.01 34.5:.01 23.5:3 21.5:2.5 19:-1.3 17:-.7 14:-.5",
 "36:.02 34.5:.02 26:.5 24:2 21:-1 18:-.7 16:-.7 14:.01",
 "36:.05 34.5:.05 27.5:-1 25:1.3 22:-1 19.5:-1 17:-.7 15:-.3",
 "36:-.1 34.5:-.1 28:-1 26:3 23:-1 21:-1 18.5:-.7 14:.01",
 "36:-.2 34.5:-.2 30:-1.3 27.5:-1 24:-1 21.5:-1 19:-.7 17:-.5 15:-.08 14:-.08 13:-.05",
 "35.6:.7 34.5:-.3 31:-1 29:-.7 26:1 23.5:-.7 20:-.5 15:-.06 14:-.06 13:-.05",
 "36:-.3 34.5:-.3 31:-1 28.5:-1 26:-1 23.5:-.7 20:-.3 15:-.05 14:-.05 13:-.03",
 "36:-.3 34.5:-.3 31:-1 29:1.7 26:-1.3 23.5:-1 18.4:.7 15:-.03 14:-.03 13:.02",
 "36:-.35 34.5:-.35 31.5:-1 29.5:2 27:-1.3 25:-1.3 15:.02 14:.02 13:.02",
 "36:-.35 34.5:-.35 31:-1 30:.5 29:-1 27:-.7 25:-.7 15:.01 14:.01 13:.01",
 "36:-.35 34.5:-.35 31:-1 29:.7 27:-.7 25:-.7 15:.01 14:.01 13:.01",
 "36:-.35 34.5:-.35 31:-1 29:2 27:-.7 25:-.7 15:.01 14:.01 13:.01",
 "36:-.35 34.5:-.35 32:-.7 30:1.7 27.5:-.7 25.5:-.7 15:.01 14:.01 13:.01",
 "36:-.3 34.5:-.3 30.5:1.7 28.5:-.7 26.5:-.7 15:.01 14:.01 13:.01",
 "36:-.3 34.5:-.3 31:-.7 28.5:1.3 26:-.7 15:.01 14:.01 13:.01",
 "36:-.3 34.5:-.3 30:1.7 28:-.7 26:-.7 15:.01 14:.01 13:.01",
 "36:-.3 34.5:-.3 31:-.7 29:-.7 27:-.7 15:.01 14:.01 13:.01",
 "35.5:1.7 33.5:1.7 31:1.3 29:-1 27:-.7 15:.01 14:.01 13:.01"
];

const panels = [y2002,y2003,y2004,y2005,y2006,y2007,y2008,y2009,y2010,y2011,y2012,y2013,y2014,y2015,y2016,y2017,y2018,y2019,y2020,y2021,y2022,y2023];

const FONT = '"Liberation Sans", Arial, sans-serif';
const rad = v => 6.5 * Math.sqrt(Math.abs(v));
const PAD = 16;

function toPoints(cols) {
	let pts = [];
	cols.forEach((s, age) => {
		s.split(' ').filter(t => t).forEach(t => {
			let [len, v] = t.split(':').map(Number);
			pts.push({x: age, y: len, v: v});
		});
	});
	return pts;
}

// black frame round each panel
const boxPlugin = {
	id: 'box',
	afterDatasetsDraw(chart) {
		let a = chart.chartArea, ctx = chart.ctx;
		ctx.save();
		ctx.strokeStyle = '#000';
		ctx.lineWidth = 1.4;
		ctx.strokeRect(a.left, a.top, a.right - a.left, a.bottom - a.top);
		ctx.restore();
	}
};

// size legend inside the first panel
const legendPlugin = {
	id: 'sizeLegend',
	afterDatasetsDraw(chart) {
		let a = chart.chartArea, ctx = chart.ctx;
		let cx = [88, 140, 200], tx = [106, 149, 216], cy = a.top + 24;
		ctx.save();
		ctx.font = '15px ' + FONT;
		ctx.textBaseline = 'middle';
		legendVals.forEach((v, i) => {
			ctx.beginPath();
			ctx.arc(a.left + cx[i], cy, rad(v), 0, Math.PI * 2);
			ctx.fillStyle = v < 0 ? 'rgba(255,255,255,0.5)' : 'rgba(0,0,0,0.5)';
			ctx.fill();
			ctx.lineWidth = 0.8;
			ctx.strokeStyle = '#000';
			ctx.stroke();
			ctx.fillStyle = '#000';
			ctx.fillText(String(v), a.left + tx[i], cy + 1);
		});
		ctx.restore();
	}
};

years.forEach((yr, i) => {
	let col = i % 5, row = Math.floor(i / 5);
	let pl = 70 + col * 299, pt = 44 + row * 248;
	let hasX = row === 4 || (row === 3 && col >= 2);
	let hasY = col === 0;

	let strip = document.createElement('div');
	strip.className = 'strip';
	strip.style.left = pl + 'px';
	strip.style.top = (pt - 40) + 'px';
	strip.style.width = '289px';
	strip.textContent = yr;
	document.body.appendChild(strip);

	let cv = document.createElement('canvas');
	cv.width = 70 + 289 + PAD;
	cv.height = PAD + 197 + 40;
	cv.style.left = (pl - 70) + 'px';
	cv.style.top = (pt - PAD) + 'px';
	document.body.appendChild(cv);

	new Chart(cv.getContext('2d'), {
		type: 'scatter',
		data: {
			datasets: [{
				data: toPoints(panels[i]),
				pointRadius: c => rad(c.raw.v),
				pointBackgroundColor: c => c.raw.v < 0 ? 'rgba(255,255,255,0.5)' : 'rgba(0,0,0,0.5)',
				pointBorderColor: 'rgba(0,0,0,0.85)',
				pointBorderWidth: 0.7,
				clip: 0
			}]
		},
		options: {
			responsive: false,
			animation: false,
			events: [],
			layout: {autoPadding: false, padding: {top: PAD, right: PAD, left: 0, bottom: 0}},
			plugins: {legend: {display: false}, tooltip: {enabled: false}},
			scales: {
				x: {
					type: 'linear', min: -1, max: 21,
					afterBuildTicks: s => { s.ticks = xTicks.map(v => ({value: v})); },
					afterFit: s => { s.height = 40; },
					border: {display: false},
					grid: {display: hasX, drawOnChartArea: false, tickLength: 5, color: '#333'},
					ticks: {display: hasX, autoSkip: false, maxRotation: 0, padding: 2, color: '#4d4d4d',
						font: {size: 20, family: FONT},
						callback: v => xLabels.includes(v) ? String(v) : ''}
				},
				y: {
					type: 'linear', min: -2.3, max: 52.5,
					afterBuildTicks: s => { s.ticks = yTicks.map(v => ({value: v})); },
					afterFit: s => { s.width = 70; },
					border: {display: false},
					grid: {display: hasY, drawOnChartArea: false, tickLength: 5, color: '#333'},
					ticks: {display: hasY, padding: 3, color: '#4d4d4d', font: {size: 20, family: FONT}}
				}
			}
		},
		plugins: i === 0 ? [boxPlugin, legendPlugin] : [boxPlugin]
	});
});
</script>
</body>
</html>
